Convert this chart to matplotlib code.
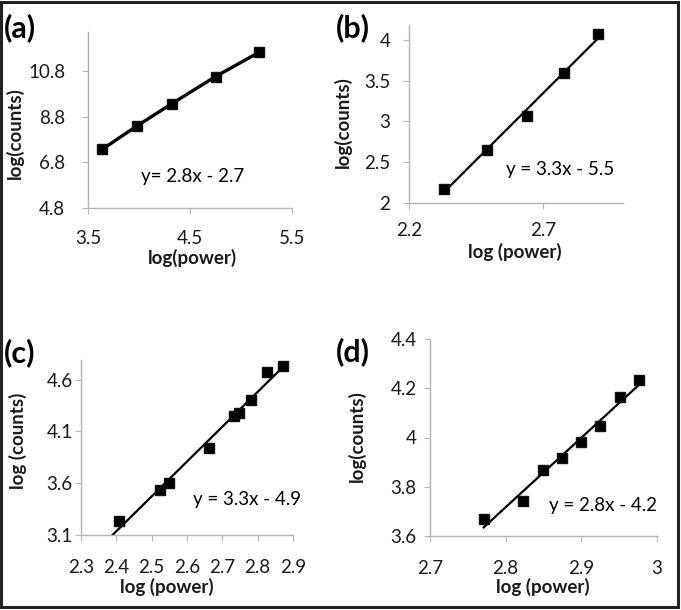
import numpy as np
import matplotlib.pyplot as plt
from matplotlib.patches import Rectangle

plt.rcParams['font.family'] = ['Lato', 'DejaVu Sans']

# ---- data ----
xa = [3.64, 3.98, 4.32, 4.75, 5.18]
ya = [7.37, 8.39, 9.36, 10.55, 11.62]

xb = [2.33, 2.49, 2.64, 2.78, 2.906]
yb = [2.175, 2.65, 3.06, 3.59, 4.07]

xc = [2.408, 2.524, 2.549, 2.662, 2.734, 2.746, 2.781, 2.826, 2.871]
yc = [3.239, 3.535, 3.606, 3.939, 4.245, 4.277, 4.400, 4.671, 4.729]

xd = [2.771, 2.823, 2.849, 2.875, 2.900, 2.925, 2.951, 2.976]
yd = [3.671, 3.742, 3.870, 3.917, 3.982, 4.046, 4.165, 4.233]

eq_a = "y= 2.8x - 2.7"
eq_b = "y = 3.3x - 5.5"
eq_c = "y = 3.3x - 4.9"
eq_d = "y = 2.8x - 4.2"

W, H = 681, 610
fig = plt.figure(figsize=(W / 100, H / 100), dpi=100)


def make_ax(x0, y0, x1, y1):
    # pixel box -> figure fraction
    return fig.add_axes([x0 / W, 1 - y1 / H, (x1 - x0) / W, (y1 - y0) / H])


def style(ax, xpad, ypad):
    for s in ["top", "right"]:
        ax.spines[s].set_visible(False)
    for s in ["left", "bottom"]:
        ax.spines[s].set_color("#b5b5b5")
        ax.spines[s].set_linewidth(1.0)
    ax.tick_params(axis="x", colors="#b5b5b5", labelcolor="#1a1a1a",
                   length=4, labelsize=13.5, pad=xpad)
    ax.tick_params(axis="y", colors="#b5b5b5", labelcolor="#1a1a1a",
                   length=4, labelsize=13.5, pad=ypad)
    ax.set_facecolor("none")


mk = dict(marker="s", markersize=6.5, color="black", markeredgecolor="#111")
lab = dict(fontsize=13.5, fontweight="bold", color="#1a1a1a")

# (a)
ax = make_ax(88, 32, 292, 208)
ax.plot(xa, ya, "-", color="black", lw=2.4, marker="s", markersize=6.5,
        markeredgecolor="#111")
ax.set_xlim(3.5, 5.5)
ax.set_ylim(4.8, 12.5)
ax.set_xticks([3.5, 4.5, 5.5])
ax.set_yticks([4.8, 6.8, 8.8, 10.8])
style(ax, 12, 12.5)
ax.text(4.53, 6.16, eq_a, fontsize=13.5, ha="center", va="center")

# (b)
ax = make_ax(409, 25, 623, 203)
k, b = np.polyfit(xb, yb, 1)
xx = np.array([min(xb), max(xb)])
ax.plot(xx, k * xx + b, color="black", lw=1.6)
ax.plot(xb, yb, ls="none", **mk)
ax.set_xlim(2.2, 3.0)
ax.set_ylim(2, 4.18)
ax.set_xticks([2.2, 2.7])
ax.set_yticks([2, 2.5, 3, 3.5, 4])
ax.set_yticklabels(["2", "2.5", "3", "3.5", "4"])
style(ax, 10, 9.5)
ax.text(2.765, 2.41, eq_b, fontsize=13.5, ha="center", va="center")

# (c)
ax = make_ax(81, 360, 293, 535)
k, b = np.polyfit(xc, yc, 1)
xx = np.array([min(xc) - 0.03, max(xc) - 0.01])
ax.plot(xx, k * xx + b, color="black", lw=1.6)
ax.plot(xc, yc, ls="none", **mk)
ax.set_xlim(2.3, 2.9)
ax.set_ylim(3.1, 4.79)
ax.set_xticks([2.3, 2.4, 2.5, 2.6, 2.7, 2.8, 2.9])
ax.set_yticks([3.1, 3.6, 4.1, 4.6])
style(ax, 13, 2)
ax.text(2.769, 3.44, eq_c, fontsize=13.5, ha="center", va="center")

# (d)
ax = make_ax(430, 339, 657, 536)
k, b = np.polyfit(xd, yd, 1)
xx = np.array([min(xd), max(xd)])
ax.plot(xx, k * xx + b, color="black", lw=1.6)
ax.plot(xd, yd, ls="none", **mk)
ax.set_xlim(2.7, 3.0)
ax.set_ylim(3.6, 4.4)
ax.set_xticks([2.7, 2.8, 2.9, 3.0])
ax.set_xticklabels(["2.7", "2.8", "2.9", "3"])
ax.set_yticks([3.6, 3.8, 4.0, 4.2, 4.4])
ax.set_yticklabels(["3.6", "3.8", "4", "4.2", "4.4"])
style(ax, 13, 5.5)
ax.text(2.929, 3.725, eq_d, fontsize=13.5, ha="center", va="center")

# axis titles and panel letters (figure pixel positions)
def ftext(x, y, s, **kw):
    fig.text(x / W, 1 - y / H, s, ha="center", va="center", **kw)

ftext(192, 258, "log(power)", **lab)
ftext(515, 252, "log (power)", **lab)
ftext(167, 587, "log (power)", **lab)
ftext(543, 587, "log (power)", **lab)
ftext(15, 133, "log(counts)", rotation=90, **lab)
ftext(343, 122, "log(counts)", rotation=90, **lab)
ftext(18, 441, "log (counts)", rotation=90, **lab)
ftext(357, 436, "log(counts)", rotation=90, **lab)

pl = dict(fontsize=22, fontweight="bold", color="black")
ftext(20, 28, "(a)", **pl)
ftext(353, 28, "(b)", **pl)
ftext(20, 353, "(c)", **pl)
ftext(353, 352, "(d)", **pl)

fig.patches.append(Rectangle((0.002, 0.005), 0.994, 0.992, transform=fig.transFigure,
                             fill=False, edgecolor="#222222", linewidth=2.2))

fig.savefig("out.png", dpi=100)
